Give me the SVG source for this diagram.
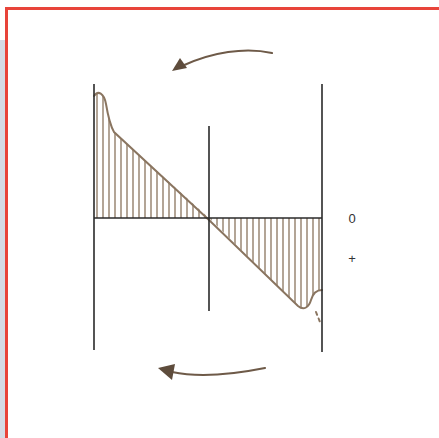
<svg xmlns="http://www.w3.org/2000/svg" width="439" height="438" viewBox="0 0 439 438">
<style>
.ax{stroke:#2a2a2a;stroke-width:1.6;fill:none}
.edge{stroke:#8a7560;stroke-width:2;fill:none;stroke-linecap:round}
.arr{stroke:#6e5a48;stroke-width:2.2;fill:none;stroke-linecap:round}
.head{fill:#5e4c3c}
.lbl{font-family:"Liberation Sans",Arial,sans-serif;font-size:13px;fill:#333}
</style>
<defs>
<pattern id="hatch" patternUnits="userSpaceOnUse" width="6" height="10" x="95">
<line x1="2" y1="0" x2="2" y2="10" stroke="#a08e7c" stroke-width="1.6"/>
</pattern>
</defs>
<rect x="0" y="40" width="6" height="398" fill="#d5dbe5"/>
<rect x="0" y="0" width="439" height="438" fill="none"/>
<path d="M6.5,438 V8.5 H439" fill="none" stroke="#e8443a" stroke-width="3"/>
<g id="shading">
<path d="M94,218 L94,96 C98,90 104,93 106,104 C108,116 110,125 114,132 L209,218 Z" fill="url(#hatch)"/>
<path d="M209,218 L298,306 C304,311 309,307 311,300 C313,293 315,290 322,290 L322,218 Z" fill="url(#hatch)"/>
<path class="edge" d="M94,96 C98,90 104,93 106,104 C108,116 110,125 114,132 L209,220 L298,306 C304,311 309,307 311,300 C313,293 316,290 322,290"/>
<path class="edge" d="M316,312 L320,322" stroke-dasharray="3,4"/>
</g>
<g id="axes">
<line class="ax" x1="94" y1="84" x2="94" y2="350"/>
<line class="ax" x1="209" y1="126" x2="209" y2="311"/>
<line class="ax" x1="322" y1="84" x2="322" y2="352"/>
<line class="ax" x1="94" y1="218" x2="322" y2="218"/>
</g>
<g id="arrow-top">
<path class="arr" d="M272,53 C245,47 212,52 182,66"/>
<polygon class="head" points="172,71 180,58 187,68"/>
</g>
<g id="arrow-bottom">
<path class="arr" d="M265,368 C235,374 200,378 172,372"/>
<polygon class="head" points="158,368 175,364 172,380"/>
</g>
<text class="lbl" x="352" y="223" text-anchor="middle">0</text>
<text class="lbl" x="352" y="263" text-anchor="middle">+</text>
</svg>
